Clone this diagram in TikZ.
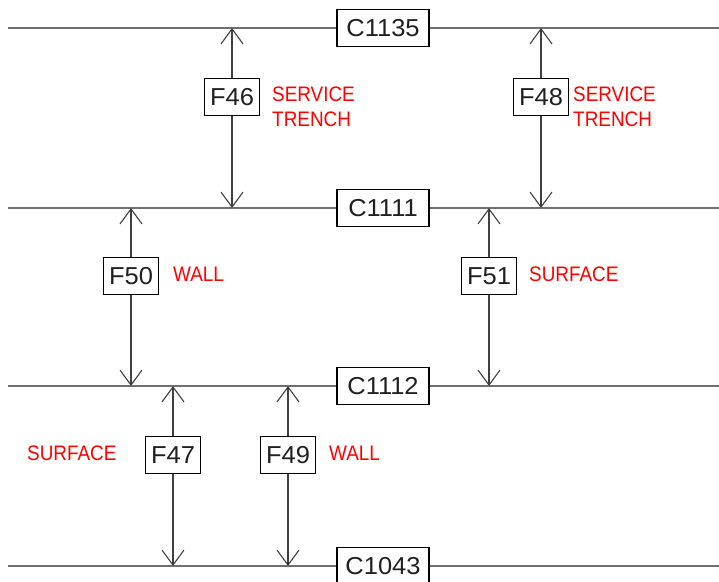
\documentclass[tikz,border=0pt]{standalone}
\usepackage{fontspec}
\setmainfont{Liberation Sans}
\newfontfamily\redfont[FakeStretch=0.9]{Liberation Sans}
\newfontfamily\boxfont[FakeStretch=1.04]{Liberation Sans}
\usetikzlibrary{arrows.meta}
\definecolor{hline}{HTML}{707070}
\definecolor{aline}{HTML}{404040}
\definecolor{btext}{HTML}{202020}
\tikzset{
  fbox/.style={draw=black, line width=1.2pt, fill=white, text=btext, minimum width=55pt, minimum height=37pt, inner sep=0pt, font=\boxfont\fontsize{24.5}{24.5}\selectfont},
  cbox/.style={draw=black, line width=1.2pt, fill=white, text=btext, minimum width=92pt, minimum height=37pt, inner sep=0pt, font=\boxfont\fontsize{24.5}{24.5}\selectfont},
  lab/.style={text=red, inner sep=0pt, anchor=west, font=\redfont\fontsize{21}{25}\selectfont},
  lab2/.style={text=red, inner sep=0pt, anchor=north west, align=left, font=\redfont\fontsize{21}{25}\selectfont},
  layer/.style={draw=hline, line width=1.5pt},
  arr/.style={draw=aline, line width=1.1pt, -{Straight Barb[length=15pt,width=22pt,line width=1.1pt]}}
}
\begin{document}
\begin{tikzpicture}[x=1pt,y=-1pt]
\useasboundingbox (0,0) rectangle (719,581);
\clip (0,0) rectangle (719,581);
% layer lines end points
\coordinate (l1) at (8,28);  \coordinate (r1) at (719,28);
\coordinate (l2) at (8,208); \coordinate (r2) at (719,208);
\coordinate (l3) at (8,386); \coordinate (r3) at (719,386);
\coordinate (l4) at (8,566); \coordinate (r4) at (719,566);
\node[cbox] (C1135) at (383,28) {C1135};
\node[cbox] (C1111) at (383,208) {C1111};
\node[cbox] (C1112) at (383,386) {C1112};
\node[cbox] (C1043) at (383,566) {C1043};
\draw[layer] (l1) -- (C1135); \draw[layer] (C1135) -- (r1);
\draw[layer] (l2) -- (C1111); \draw[layer] (C1111) -- (r2);
\draw[layer] (l3) -- (C1112); \draw[layer] (C1112) -- (r3);
\draw[layer] (l4) -- (C1043); \draw[layer] (C1043) -- (r4);
% arrow end points
\coordinate (t46) at (232,28);  \coordinate (b46) at (232,208);
\coordinate (t48) at (541,28);  \coordinate (b48) at (541,208);
\coordinate (t50) at (131,208); \coordinate (b50) at (131,386);
\coordinate (t51) at (489,208); \coordinate (b51) at (489,386);
\coordinate (t47) at (173,386); \coordinate (b47) at (173,566);
\coordinate (t49) at (288,386); \coordinate (b49) at (288,566);
% feature boxes
\node[fbox] (F46) at (232,97) {F46};
\node[fbox] (F48) at (541,97) {F48};
\node[fbox] (F50) at (131,276) {F50};
\node[fbox] (F51) at (489,276) {F51};
\node[fbox] (F47) at (173,455) {F47};
\node[fbox] (F49) at (288,455) {F49};
\foreach \f in {46,48,50,51,47,49}{
  \draw[arr] (F\f) -- (t\f);
  \draw[arr] (F\f) -- (b\f);
}
% labels
\node[lab2] (L46) at (272,87) {SERVICE\\TRENCH};
\node[lab2] (L48) at (573,87) {SERVICE\\TRENCH};
\node[lab] (L50) at (173,274.5) {WALL};
\node[lab] (L51) at (529,274.5) {SURFACE};
\node[lab] (L47) at (27,453.5) {SURFACE};
\node[lab] (L49) at (329,453.5) {WALL};
\end{tikzpicture}
\end{document}
